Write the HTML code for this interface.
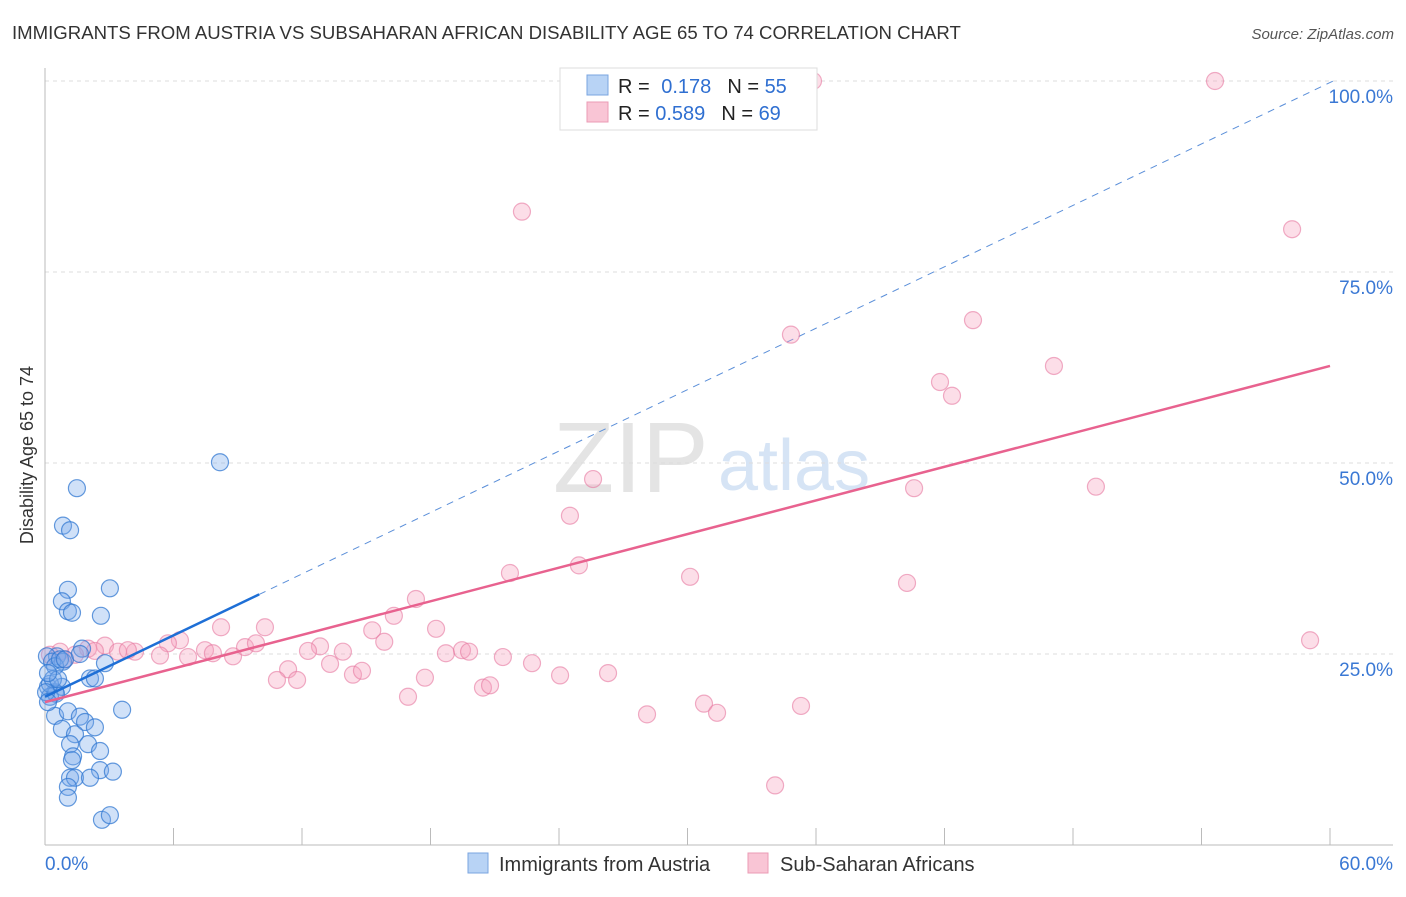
<!DOCTYPE html>
<html><head><meta charset="utf-8"><style>
body{margin:0;background:#fff;font-family:"Liberation Sans",sans-serif}
svg text{font-family:"Liberation Sans",sans-serif}
</style></head><body>
<svg id="c" width="1406" height="892" xmlns="http://www.w3.org/2000/svg">
<text x="12" y="39" font-size="18.6" fill="#333">IMMIGRANTS FROM AUSTRIA VS SUBSAHARAN AFRICAN DISABILITY AGE 65 TO 74 CORRELATION CHART</text>
<text x="1394" y="39" font-size="15" fill="#555" text-anchor="end" font-style="italic">Source: ZipAtlas.com</text>
<text x="553" y="492" font-size="100" fill="#e4e4e4" font-family="Liberation Serif">ZIP</text>
<text x="718" y="490" font-size="72" fill="#d6e4f5">atlas</text>
<text transform="translate(33,455) rotate(-90)" font-size="18" fill="#333" text-anchor="middle">Disability Age 65 to 74</text>
<g id="grid"></g><g id="axes"></g><g id="trend"></g><g id="pts"></g>
<g>
<rect x="560" y="68" width="257" height="62" fill="#fff" stroke="#ddd"/>
<rect x="587" y="75" width="21" height="20" fill="#b8d3f5" stroke="#7aa5e0"/>
<rect x="587" y="102" width="21" height="20" fill="#f9c5d5" stroke="#eb9bb5"/>
<text x="618" y="93" font-size="20" fill="#222">R = <tspan fill="#2f6fd1" dx="6">0.178</tspan><tspan fill="#222" dx="16">N = </tspan><tspan fill="#2f6fd1">55</tspan></text>
<text x="618" y="120" font-size="20" fill="#222">R = <tspan fill="#2f6fd1">0.589</tspan><tspan fill="#222" dx="16">N = </tspan><tspan fill="#2f6fd1">69</tspan></text>
</g>
<g>
<rect x="468" y="853" width="20" height="20" fill="#b8d3f5" stroke="#7aa5e0"/>
<text x="499" y="871" font-size="20" fill="#333">Immigrants from Austria</text>
<rect x="748" y="853" width="20" height="20" fill="#f9c5d5" stroke="#eb9bb5"/>
<text x="780" y="871" font-size="20" fill="#333">Sub-Saharan Africans</text>
</g>
</svg>
<script>
const blueX=[8.17,1.49,0.84,1.17,1.07,3.03,0.79,1.07,1.26,2.61,1.73,2.8,0.56,0.84,2.1,2.33,0.14,0.47,0.79,0.23,0.51,3.6,0.47,1.07,1.63,1.87,2.33,0.79,1.4,1.17,2.01,2.57,1.31,1.26,2.57,3.17,1.17,1.4,2.1,1.07,1.07,2.66,3.03,0.09,0.33,0.47,0.7,0.23,0.37,0.05,0.14,0.61,0.93,1.63,0.14];
const blueY=[50.1,46.7,41.8,41.2,33.4,33.6,31.9,30.6,30.4,30.0,25.7,23.8,24.7,24.0,21.8,21.8,20.7,20.0,20.7,19.4,19.8,17.7,16.9,17.5,16.8,16.1,15.4,15.2,14.5,13.2,13.2,12.3,11.6,11.1,9.8,9.6,8.8,8.8,8.8,7.6,6.2,3.3,3.9,24.7,24.0,23.4,24.3,21.1,21.7,20.0,18.7,21.7,24.3,25.0,22.5];
const pinkX=[35.86,54.63,22.27,58.23,34.83,43.33,47.11,41.79,42.35,25.59,40.58,49.07,24.51,21.71,24.93,30.12,40.25,17.32,16.29,10.27,8.22,6.3,5.74,18.26,15.28,15.84,12.84,13.91,12.28,4.2,5.37,6.68,7.47,7.84,8.78,9.34,9.85,18.72,19.47,19.8,21.38,22.74,13.31,14.38,14.8,11.35,10.83,11.77,17.74,16.95,20.45,20.78,24.05,26.29,28.11,30.77,31.38,35.3,34.09,59.07,2.8,3.41,3.87,2.01,1.4,0.7,0.23,0.93,2.33];
const pinkY=[100,100,82.9,80.6,66.8,68.7,62.7,60.6,58.8,47.9,46.7,46.9,43.1,35.6,36.6,35.1,34.3,32.2,30.0,28.5,28.5,26.8,26.4,28.3,28.1,26.6,26.0,25.3,25.4,25.3,24.8,24.6,25.5,25.1,24.7,25.9,26.4,25.1,25.5,25.3,24.6,23.8,23.7,22.3,22.8,23.0,21.6,21.6,21.9,19.4,20.6,20.9,22.2,22.5,17.1,18.5,17.3,18.2,7.8,26.8,26.1,25.3,25.5,25.7,24.9,25.3,24.9,24.3,25.4];
const yTicks=[25,50,75,100];
const yTickLabels=["25.0%","50.0%","75.0%","100.0%"];
const xTickCount=10;
const xMax=60;
const blueTrend=[[0,19.4],[10,32.8]];
const pinkTrend=[[0,18.7],[60,62.7]];
const NS="http://www.w3.org/2000/svg";
const X=v=>45+v/xMax*1285, Y=v=>845-v*7.64;
function mk(tag,attrs,parent){const e=document.createElementNS(NS,tag);for(const k in attrs)e.setAttribute(k,attrs[k]);parent.appendChild(e);return e;}
const grid=document.getElementById('grid'),axes=document.getElementById('axes'),trend=document.getElementById('trend'),pts=document.getElementById('pts');
yTicks.forEach((t,i)=>{
 const l=mk('line',{x1:45,x2:1393,y1:Y(t),y2:Y(t),stroke:'#ddd','stroke-dasharray':'4,4'},grid);
 
 
 const tx=mk('text',{x:1393,y:Y(t)+22,'font-size':19,fill:'#3a78d4','text-anchor':'end'},axes);
 tx.textContent=yTickLabels[i];
 
 
});
const ax=mk('line',{x1:45,x2:1393,y1:845,y2:845,stroke:'#bbb'},axes);


const ay=mk('line',{x1:45,x2:45,y1:68,y2:845,stroke:'#bbb'},axes);


for(let i=1;i<=xTickCount;i++){const tk=mk('line',{x1:X(i*xMax/xTickCount),x2:X(i*xMax/xTickCount),y1:828,y2:845,stroke:'#bbb'},axes);
 
 }
const x0=mk('text',{x:45,y:870,'font-size':19,fill:'#3a78d4'},axes);x0.textContent='0.0%';


const x1=mk('text',{x:1393,y:870,'font-size':19,fill:'#3a78d4','text-anchor':'end'},axes);x1.textContent='60.0%';


function drawPts(xs,ys,fill,stroke,name){xs.forEach((v,i)=>{const c=mk('circle',{cx:X(v),cy:Y(ys[i]),r:8.5,fill:fill,stroke:stroke,'stroke-width':1.2},pts);
 
 });}
drawPts(pinkX,pinkY,'rgba(245,160,190,0.35)','rgba(230,120,160,0.6)','subsaharan-point');
drawPts(blueX,blueY,'rgba(120,170,235,0.35)','rgba(50,120,210,0.75)','austria-point');
const bs=(blueTrend[1][1]-blueTrend[0][1])/(blueTrend[1][0]-blueTrend[0][0]);
const xe=(100-blueTrend[0][1])/bs;
const bd=mk('line',{x1:X(blueTrend[1][0]),y1:Y(blueTrend[1][1]),x2:X(xe),y2:Y(100),stroke:'#5b8fd9','stroke-width':1,'stroke-dasharray':'7,6'},trend);


const bl=mk('line',{x1:X(blueTrend[0][0]),y1:Y(blueTrend[0][1]),x2:X(blueTrend[1][0]),y2:Y(blueTrend[1][1]),stroke:'#1e6fd6','stroke-width':2.5},pts);


const pl=mk('line',{x1:X(pinkTrend[0][0]),y1:Y(pinkTrend[0][1]),x2:X(pinkTrend[1][0]),y2:Y(pinkTrend[1][1]),stroke:'#e8628f','stroke-width':2.5},pts);


</script>
</body></html>
